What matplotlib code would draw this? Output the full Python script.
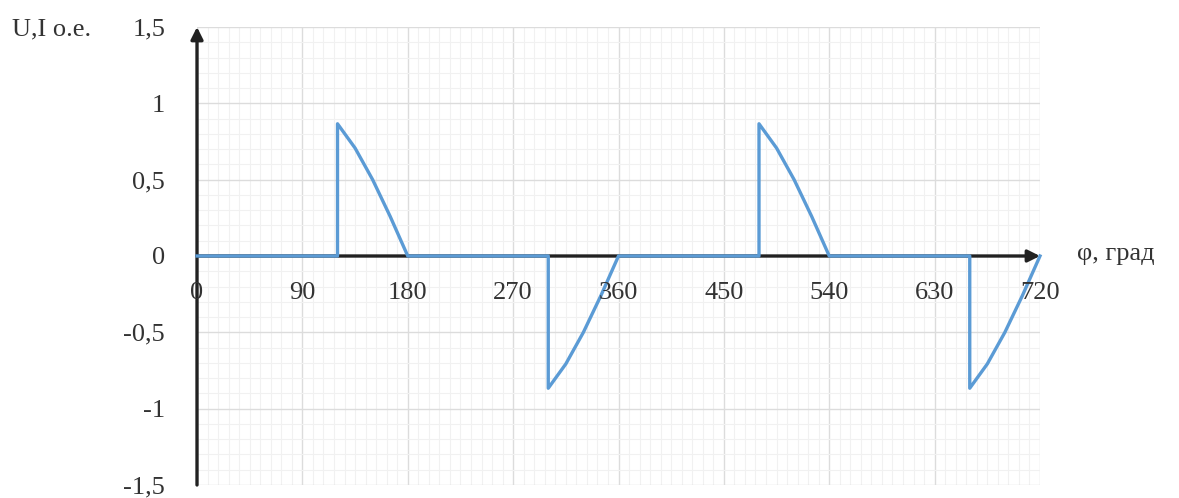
import matplotlib.pyplot as plt
from matplotlib.ticker import MultipleLocator

plt.rcParams['font.family'] = ['Liberation Serif', 'DejaVu Serif']

# signal: phase in degrees and value in relative units
phi = [0, 120, 120, 135, 150, 165, 180, 300, 300, 315, 330, 345, 360,
       480, 480, 495, 510, 525, 540, 660, 660, 675, 690, 705, 720]
val = [0, 0, 0.866, 0.707, 0.5, 0.259, 0, 0, -0.866, -0.707, -0.5, -0.259, 0,
       0, 0.866, 0.707, 0.5, 0.259, 0, 0, -0.866, -0.707, -0.5, -0.259, 0]

x_ticks = [0, 90, 180, 270, 360, 450, 540, 630, 720]
y_ticks = [-1.5, -1, -0.5, 0, 0.5, 1, 1.5]
y_labels = ['-1,5', '-1', '-0,5', '0', '0,5', '1', '1,5']

fs = 19
tc = '#333333'

fig = plt.figure(figsize=(11.79, 4.98), dpi=100)
ax = fig.add_axes([0.1671, 0.0261, 0.715, 0.9197])

ax.set_xlim(0, 720)
ax.set_ylim(-1.5, 1.5)
ax.xaxis.set_major_locator(MultipleLocator(90))
ax.xaxis.set_minor_locator(MultipleLocator(9))
ax.yaxis.set_major_locator(MultipleLocator(0.5))
ax.yaxis.set_minor_locator(MultipleLocator(0.1))
ax.grid(which='major', color='#dcdcdc', linewidth=1.0)
ax.grid(which='minor', color='#f1f1f1', linewidth=0.8)
ax.set_axisbelow(True)

for s in ['top', 'right', 'bottom', 'left']:
    ax.spines[s].set_visible(False)

# axes with arrows
ax.annotate('', xy=(720, 0), xytext=(0, 0), annotation_clip=False,
            arrowprops=dict(arrowstyle='-|>', color='#222222', lw=2.4,
                            mutation_scale=18, shrinkA=0, shrinkB=0), zorder=2)
ax.annotate('', xy=(0, 1.5), xytext=(0, -1.5), annotation_clip=False,
            arrowprops=dict(arrowstyle='-|>', color='#222222', lw=2.4,
                            mutation_scale=18, shrinkA=0, shrinkB=0), zorder=2)

ax.plot(phi, val, color='#5b9bd5', linewidth=2.4, zorder=3, clip_on=False)

ax.tick_params(which='both', length=0)
ax.set_xticks(x_ticks)
ax.set_xticklabels([])
ax.set_yticks(y_ticks)
ax.set_yticklabels(y_labels, fontsize=fs, color=tc)
ax.tick_params(axis='y', pad=23)

for x in x_ticks:
    ax.text(x, -0.17, str(x), ha='center', va='top', fontsize=fs, color=tc)

fig.text(0.010, 0.940, 'U,I o.e.', fontsize=fs, color=tc, va='center')
ax.text(752, 0.01, 'φ, град', fontsize=fs, color=tc, va='center', ha='left')

fig.savefig('out.png', dpi=100)
